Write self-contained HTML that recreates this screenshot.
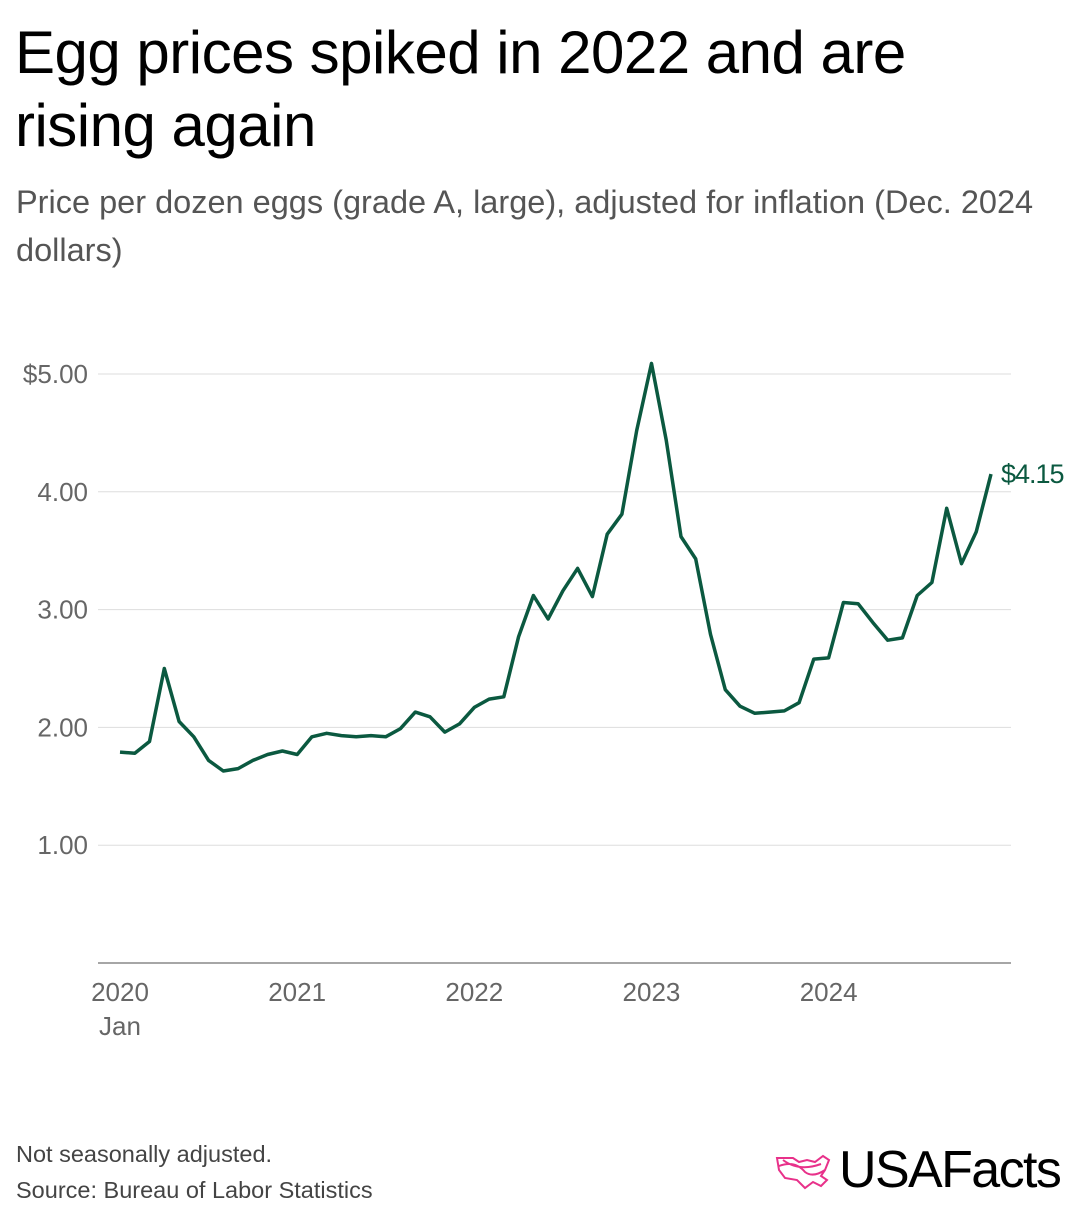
<!DOCTYPE html>
<html><head><meta charset="utf-8">
<style>
body{margin:0;width:1080px;height:1224px;background:#fff;font-family:"Liberation Sans",sans-serif;overflow:hidden;position:relative}
h1{position:absolute;left:15px;top:16px;margin:0;font-size:60px;font-weight:500;line-height:73px;color:#000;letter-spacing:-0.5px;width:960px}
.sub{position:absolute;left:16px;top:178px;font-size:32.5px;line-height:48px;color:#555;width:1060px}
svg{position:absolute;left:0;top:0}
.foot{position:absolute;left:16px;font-size:23.5px;color:#444}
</style></head><body>
<h1>Egg prices spiked in 2022 and are rising again</h1>
<div class="sub">Price per dozen eggs (grade A, large), adjusted for inflation (Dec. 2024 dollars)</div>
<svg id="chart" width="1080" height="1224"></svg>
<div class="foot" style="top:1141px">Not seasonally adjusted.</div>
<div class="foot" style="top:1177px">Source: Bureau of Labor Statistics</div>
<div style="position:absolute;left:775px;top:1150px;">
<svg width="60" height="44" viewBox="0 0 60 44" style="position:static"><path d="M2 8 L18 8 L24 12 L32 10 L40 12 L48 6 L54 10 L50 20 L46 26 L52 30 L46 36 L38 32 L30 38 L22 30 L10 28 L4 20 Z M4 16 Q20 10 30 22 Q38 28 50 20 M8 10 Q24 22 46 14" fill="none" stroke="#e8318a" stroke-width="2"/></svg>
<span style="position:absolute;left:64px;top:-10px;font-size:52px;font-weight:500;color:#000;letter-spacing:-1.6px;white-space:nowrap">USAFacts</span>
</div>
<script>
const months = 60;
const values = [1.79,1.78,1.88,2.50,2.05,1.92,1.72,1.63,1.65,1.72,1.77,1.80,
1.77,1.92,1.95,1.93,1.92,1.93,1.92,1.99,2.13,2.09,1.96,2.03,
2.17,2.24,2.26,2.77,3.12,2.92,3.16,3.35,3.11,3.64,3.81,4.52,
5.09,4.44,3.62,3.43,2.79,2.32,2.18,2.12,2.13,2.14,2.21,2.58,
2.59,3.06,3.05,2.89,2.74,2.76,3.12,3.23,3.86,3.39,3.66,4.15];
const yTicks = [1,2,3,4,5];
const yTickLabels = ["1.00","2.00","3.00","4.00","$5.00"];
const xTickIdx = [0,12,24,36,48];
const xTickLabels = ["2020","2021","2022","2023","2024"];
const NS="http://www.w3.org/2000/svg";
const svg=document.getElementById('chart');
const x=i=>120+i*(991-120)/59;
const y=v=>963-v*117.8;
function mk(t,a){const e=document.createElementNS(NS,t);for(const k in a)e.setAttribute(k,a[k]);svg.appendChild(e);return e;}
yTicks.forEach((t,i)=>{
 const g=mk('line',{x1:98,x2:1011,y1:y(t),y2:y(t),stroke:'#ddd','stroke-width':1});
 
 
 const l=mk('text',{x:88,y:y(t)+9,'text-anchor':'end','font-size':26,fill:'#666','font-family':'Liberation Sans, sans-serif'});
 l.textContent=yTickLabels[i];
 
 
});
const ax=mk('line',{x1:98,x2:1011,y1:963,y2:963,stroke:'#888','stroke-width':1.5});


xTickIdx.forEach((m,i)=>{
 const l=mk('text',{x:x(m),y:1001,'text-anchor':'middle','font-size':26,fill:'#666','font-family':'Liberation Sans, sans-serif'});
 l.textContent=xTickLabels[i];
 
 
});
const jan=mk('text',{x:x(0),y:1035,'text-anchor':'middle','font-size':26,fill:'#666','font-family':'Liberation Sans, sans-serif'});
jan.textContent='Jan';


const p=mk('path',{d:values.map((v,i)=>(i?'L':'M')+x(i).toFixed(1)+' '+y(v).toFixed(1)).join(''),fill:'none',stroke:'#0b5940','stroke-width':3.5,'stroke-linejoin':'round'});


const last=values.length-1;
const e=mk('text',{x:x(last)+10,y:y(values[last])+9,'font-size':27,fill:'#0b5940','font-family':'Liberation Sans, sans-serif','letter-spacing':'-1'});
e.textContent='$'+values[last].toFixed(2);


</script>
</body></html>
